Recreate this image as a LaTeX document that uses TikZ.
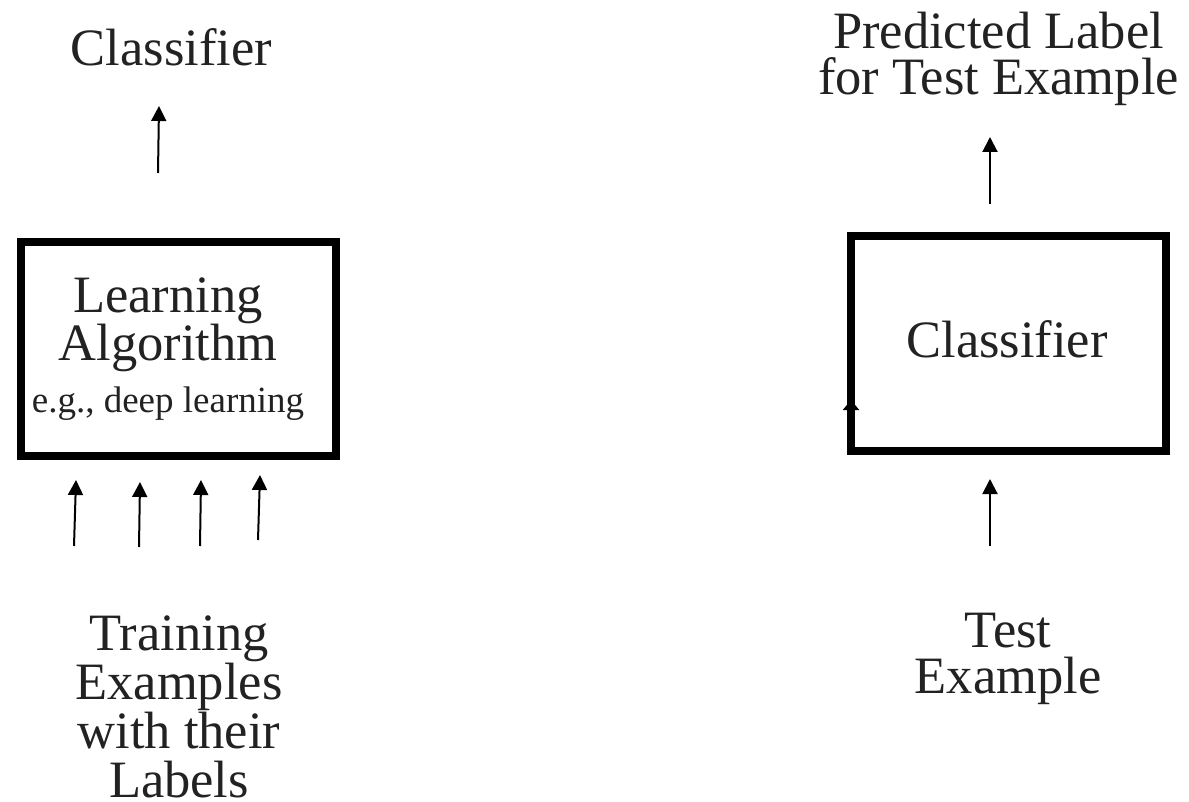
\documentclass[tikz,border=0pt]{standalone}
\usepackage{fontspec}
\setmainfont{Liberation Serif}
\usetikzlibrary{arrows.meta}
\definecolor{txt}{RGB}{34,34,34}
\tikzset{
  box/.style={draw=black, line width=8pt, inner sep=0pt, outer sep=0pt},
  big/.style={text=txt, font=\fontsize{52.5}{#1}\selectfont, align=center, anchor=base, inner sep=0pt},
  big/.default=48,
  small/.style={text=txt, font=\fontsize{37}{44}\selectfont, anchor=base, inner sep=0pt},
  arr/.style={line width=2pt, -{Triangle[width=15pt,length=15pt]}},
}
\begin{document}
\begin{tikzpicture}[x=1pt,y=-1pt]
\useasboundingbox (0,0) rectangle (1189,802);
% boxes
\node[box, minimum width=315pt, minimum height=214pt] (learnbox) at (178.5,349) {};
\node[box, minimum width=315pt, minimum height=215pt] (clsbox) at (1008.5,343.5) {};
% texts (base anchor = baseline of the last line)
\node[big] (clsout) at (171.5,66) {Classifier};
\node[big=48] (algo) at (168,360) {Learning\\Algorithm};
\node[small] (eg) at (168,412) {e.g., deep learning};
\node[big] (clsin) at (1007,357) {Classifier};
\node[big=46] (pred) at (998.5,95) {Predicted Label\\for Test Example};
\node[big=49] (train) at (179,797) {Training\\Examples\\with their\\Labels};
\node[big=46] (test) at (1008,693) {Test\\Example};
% arrow end points
\coordinate (t1s) at (74,546);  \coordinate (t1e) at (76,480);
\coordinate (t2s) at (139,547); \coordinate (t2e) at (140,482);
\coordinate (t3s) at (200,546); \coordinate (t3e) at (201,480);
\coordinate (t4s) at (258,540); \coordinate (t4e) at (260,475);
\coordinate (cs) at (158,173);  \coordinate (ce) at (159,106);
\coordinate (ps) at (990,204);  \coordinate (pe) at (990,137);
\coordinate (ts) at (990,546);  \coordinate (te) at (990,479);
\coordinate (ks) at (851,412);  \coordinate (ke) at (851,400);
% arrows
\draw[arr] (t1s) -- (t1e);
\draw[arr] (t2s) -- (t2e);
\draw[arr] (t3s) -- (t3e);
\draw[arr] (t4s) -- (t4e);
\draw[arr] (cs) -- (ce);
\draw[arr] (ps) -- (pe);
\draw[arr] (ts) -- (te);
\draw[line width=2pt, -{Triangle[width=16pt,length=10pt]}] (ks) -- (ke);
\end{tikzpicture}
\end{document}
